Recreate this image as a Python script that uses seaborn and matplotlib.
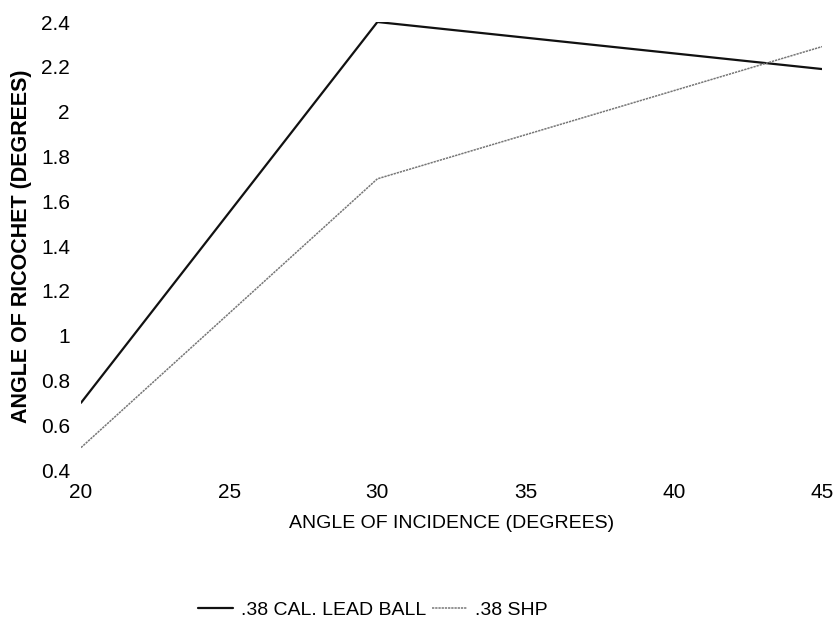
import matplotlib
matplotlib.use("Agg")
import matplotlib.pyplot as plt
import seaborn as sns
import pandas as pd
from matplotlib.lines import Line2D

incidence = [20, 30, 45]
lead_ball = [0.70, 2.40, 2.19]
shp = [0.50, 1.70, 2.29]
series_names = [".38 CAL. LEAD BALL", ".38 SHP"]
x_ticks = [20, 25, 30, 35, 40, 45]
y_ticks = [0.4, 0.6, 0.8, 1.0, 1.2, 1.4, 1.6, 1.8, 2.0, 2.2, 2.4]
y_tick_labels = ["0.4", "0.6", "0.8", "1", "1.2", "1.4", "1.6", "1.8", "2", "2.2", "2.4"]

df = pd.DataFrame({
    "x": incidence * 2,
    "y": lead_ball + shp,
    "series": [series_names[0]] * 3 + [series_names[1]] * 3,
})

sns.set_theme(style="white")
plt.rcParams['font.family'] = ['Liberation Sans', 'DejaVu Sans']
plt.rcParams['text.color'] = 'black'
plt.rcParams['xtick.color'] = 'black'
plt.rcParams['ytick.color'] = 'black'
plt.rcParams['axes.labelcolor'] = 'black'

fig = plt.figure(figsize=(8.34, 6.23), dpi=100)
ax = fig.add_axes([81/834, 1 - 470/623, (822-81)/834, (470-22)/623])

palette = {series_names[0]: "#111111", series_names[1]: "#777777"}
sns.lineplot(data=df, x="x", y="y", hue="series", palette=palette, ax=ax,
             legend=False, estimator=None)
lines = ax.get_lines()
lines[0].set_linewidth(1.6)
lines[1].set_linewidth(1.1)
lines[1].set_linestyle((0, (1.5, 0.6)))

ax.set_xlim(20, 45)
ax.set_ylim(0.4, 2.4)
ax.set_xticks(x_ticks)
ax.set_xticklabels([str(v) for v in x_ticks], fontsize=15)
ax.set_yticks(y_ticks)
ax.set_yticklabels(y_tick_labels, fontsize=15)
ax.tick_params(axis='y', length=0, pad=8)
ax.tick_params(axis='x', length=0, pad=9)
for s in ax.spines.values():
    s.set_visible(False)
ax.set_xlabel("ANGLE OF INCIDENCE (DEGREES)", fontsize=14, labelpad=10)
ax.set_ylabel("ANGLE OF RICOCHET (DEGREES)", fontsize=15.5, fontweight='bold',
              labelpad=6)

handles = [Line2D([], [], color="#111111", lw=1.6),
           Line2D([], [], color="#777777", lw=1.1, ls=(0, (1.5, 0.6)))]
fig.legend(handles, series_names, loc='center', bbox_to_anchor=(373/834, 1 - 610/623),
           ncol=2, frameon=False, fontsize=14, handlelength=1.8, handletextpad=0.4,
           columnspacing=0.3)

fig.savefig("out.png", dpi=100)
